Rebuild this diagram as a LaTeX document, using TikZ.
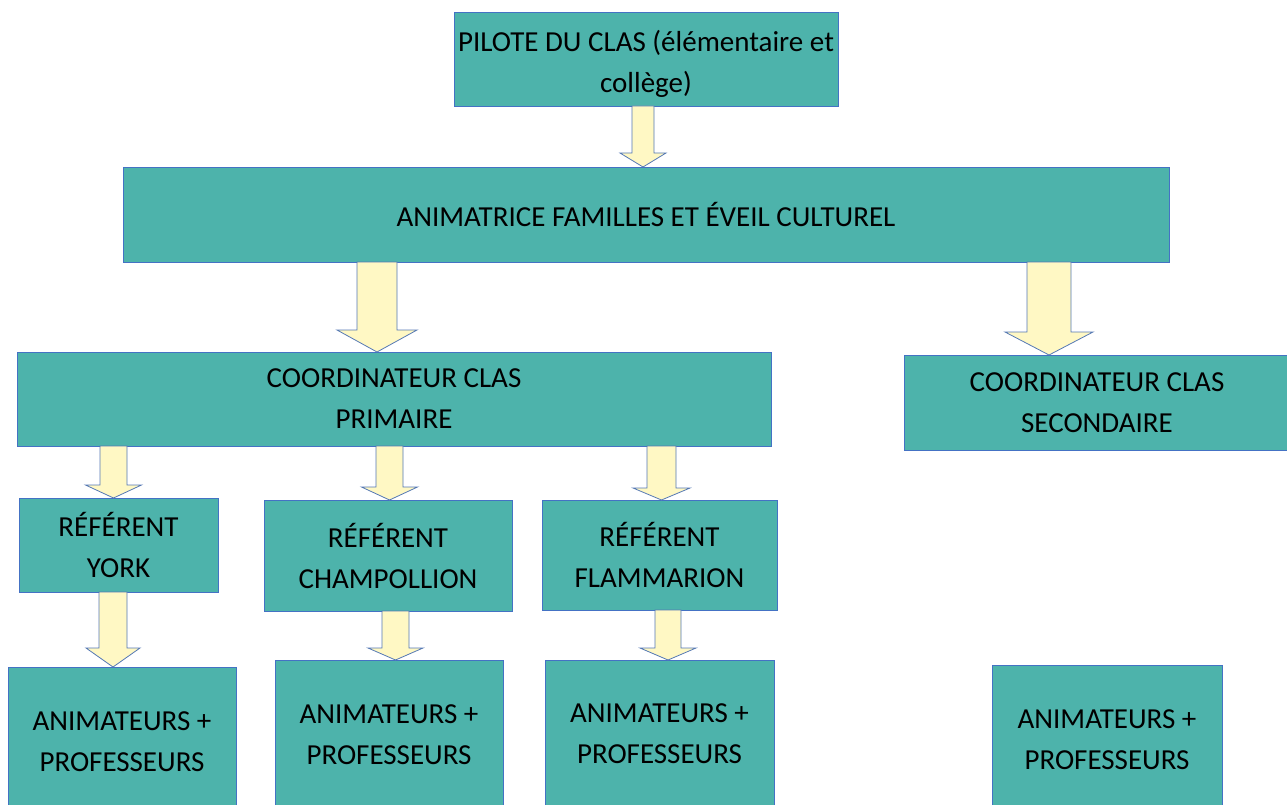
\documentclass[tikz,border=0pt]{standalone}
\usepackage{fontspec}
\setmainfont{Carlito}
\usetikzlibrary{calc}
\definecolor{sarcelle}{RGB}{77,179,171}
\definecolor{bordure}{RGB}{68,114,196}
\definecolor{jaune}{RGB}{255,248,196}
\definecolor{bordfleche}{RGB}{84,120,180}
% #1 x, #2 depart, #3 arrivee, #4 demi-largeur du corps, #5 demi-largeur de la pointe, #6 longueur de la pointe
\newcommand{\fleche}[6]{%
  \draw[fleche] let \p1 = (#2.south), \p2 = (#3.north) in
    (#1-#4, \y1) -- (#1+#4, \y1) -- (#1+#4, \y2+#6) -- (#1+#5, \y2+#6)
    -- (#1, \y2) -- (#1-#5, \y2+#6) -- (#1-#4, \y2+#6) -- cycle;}
\begin{document}
\begin{tikzpicture}[x = 1pt, y = -1pt,
    boite/.style = {draw = bordure, fill = sarcelle, line width = .8pt, inner sep = 0pt, outer sep = 0pt,
      align = center, font = \fontsize{29}{41}\selectfont},
    fleche/.style = {draw = bordfleche, fill = jaune, line width = .8pt, line join = miter}]
  \useasboundingbox (0,0) rectangle (1287,805);
  \node [boite, minimum width = 384pt, minimum height = 94pt] (pilote) at (646,59) {\rule{0pt}{31pt}PILOTE DU CLAS (élémentaire et\\collège)};
  \node [boite, minimum width = 1046pt, minimum height = 95pt] (animatrice) at (646,214.5) {ANIMATRICE FAMILLES ET ÉVEIL CULTUREL};
  \node [boite, minimum width = 754pt, minimum height = 94pt] (primaire) at (394,399) {COORDINATEUR CLAS\\PRIMAIRE};
  \node [boite, minimum width = 386pt, minimum height = 95pt] (secondaire) at (1097,402.5) {COORDINATEUR CLAS\\SECONDAIRE};
  \node [boite, minimum width = 199pt, minimum height = 94pt] (york) at (118.5,545) {RÉFÉRENT\\YORK};
  \node [boite, minimum width = 248pt, minimum height = 111pt] (champollion) at (388,555.5) {RÉFÉRENT\\CHAMPOLLION};
  \node [boite, minimum width = 235pt, minimum height = 110pt] (flammarion) at (659.5,555) {RÉFÉRENT\\FLAMMARION};
  \node [boite, minimum width = 228pt, minimum height = 149pt] (animyork) at (122,741.5) {ANIMATEURS +\\PROFESSEURS};
  \node [boite, minimum width = 228pt, minimum height = 149pt] (animchamp) at (389,734.5) {ANIMATEURS +\\PROFESSEURS};
  \node [boite, minimum width = 229pt, minimum height = 148pt] (animflam) at (659.5,734) {ANIMATEURS +\\PROFESSEURS};
  \node [boite, minimum width = 230pt, minimum height = 149pt] (animsec) at (1107,739.5) {ANIMATEURS +\\PROFESSEURS};
  \fleche{643}{pilote}{animatrice}{11}{23}{14}
  \fleche{377}{animatrice}{primaire}{20}{40}{22}
  \fleche{1049}{animatrice}{secondaire}{22}{44}{23}
  \fleche{113.5}{primaire}{york}{13.5}{28}{13}
  \fleche{389.5}{primaire}{champollion}{13.5}{28}{13}
  \fleche{661.5}{primaire}{flammarion}{14.5}{28.5}{12}
  \fleche{113}{york}{animyork}{14}{27}{19}
  \fleche{395.5}{champollion}{animchamp}{13.5}{27.5}{12}
  \fleche{668}{flammarion}{animflam}{13}{28}{12}
\end{tikzpicture}
\end{document}
